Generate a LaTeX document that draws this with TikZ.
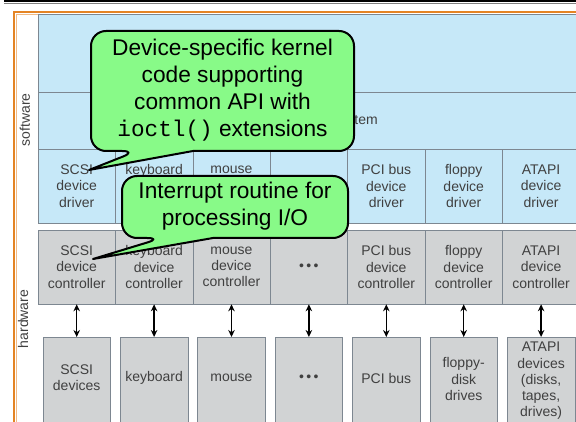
\documentclass[tikz,border=0pt]{standalone}
\usepackage{fontspec}
\setmainfont{Liberation Sans}
\setmonofont{Liberation Mono}
\usetikzlibrary{arrows.meta}

\definecolor{swblue}{RGB}{198,232,248}
\definecolor{hwgray}{RGB}{209,211,212}
\definecolor{gridc}{RGB}{125,135,145}
\definecolor{cellt}{RGB}{64,64,64}
\definecolor{callg}{RGB}{136,250,136}
\definecolor{frameo}{RGB}{228,132,36}

\begin{document}
\begin{tikzpicture}[x=1pt,y=-1pt,
  cell/.style={draw=gridc, line width=0.6pt, minimum width=77.4pt, minimum height=74pt, inner sep=0pt, align=center, text=cellt, font=\fontsize{14}{16.3}\selectfont},
  drv/.style={cell, fill=swblue},
  ctl/.style={cell, fill=hwgray},
  devbox/.style={draw=gridc, line width=0.6pt, fill=hwgray, minimum width=67.5pt, minimum height=100pt, anchor=north, inner sep=0pt},
  devtxt/.style={align=center, text=cellt, font=\fontsize{14}{16.3}\selectfont, inner sep=0pt},
  link/.style={{Stealth[length=7pt,width=6.5pt]}-{Stealth[length=7pt,width=6.5pt]}, line width=1.3pt},
  callout/.style={fill=callg, draw=black, line width=2pt, line join=round},
  calltxt/.style={align=center, font=\fontsize{22.7}{27}\selectfont, inner sep=0pt},
  side/.style={rotate=90, text=cellt, font=\fontsize{14}{16}\selectfont, inner sep=0pt},
  plain/.style={text=cellt, font=\fontsize{14}{16.3}\selectfont, inner sep=0pt}
]
\useasboundingbox (0,0) rectangle (576,422);
\clip (0,0) rectangle (576,422);

% top rule
\draw[line width=1.6pt] (4,0.8) -- (580,0.8);
\draw[line width=0.5pt, gray] (4,2.8) -- (580,2.8);

% orange frame
\draw[frameo, line width=1.3pt] (14,440) -- (14,12) -- (590,12);
\draw[frameo!55, line width=0.6pt] (16.5,440) -- (16.5,14.5) -- (590,14.5);

% software region
\filldraw[fill=swblue, draw=gridc, line width=0.6pt] (38,14.5) rectangle (590,223);
\draw[gridc, line width=0.6pt] (38,92) -- (590,92);
\draw[gridc, line width=0.6pt] (38,149) -- (590,149);
\node[plain] (kio) at (312,120.5) {kernel I/O subsystem};

% side labels
\node[side] (sw) at (25,120) {software};
\node[side] (hw) at (23,319) {hardware};

% drivers
\node[drv] (drv1) at (76.7,186) {SCSI\\device\\driver};
\node[drv] (drv2) at (154.1,186) {keyboard\\device\\driver};
\node[drv] (drv3) at (231.5,186) {mouse\\device\\driver};
\node[drv] (drv4) at (308.9,186) {};
\node[drv] (drv5) at (386.3,186) {PCI bus\\device\\driver};
\node[drv] (drv6) at (463.7,186) {floppy\\device\\driver};
\node[drv] (drv7) at (541.1,186) {ATAPI\\device\\driver};

% controllers
\node[ctl] (ctl1) at (76.7,267) {SCSI\\device\\controller};
\node[ctl] (ctl2) at (154.1,267) {keyboard\\device\\controller};
\node[ctl] (ctl3) at (231.5,267) {mouse\\device\\controller};
\node[ctl] (ctl4) at (308.9,267) {•\,•\,•};
\node[ctl] (ctl5) at (386.3,267) {PCI bus\\device\\controller};
\node[ctl] (ctl6) at (463.7,267) {floppy\\device\\controller};
\node[ctl] (ctl7) at (541.1,267) {ATAPI\\device\\controller};

% devices
\foreach \i/\x in {1/76.7,2/154.1,3/231.5,4/308.9,5/386.3,6/463.7,7/541.1}{
  \node[devbox] (dev\i) at (\x,337) {};
}
\node[devtxt] (dt1) at (76.7,378) {SCSI\\devices};
\node[devtxt] (dt2) at (154.1,378) {keyboard};
\node[devtxt] (dt3) at (231.5,378) {mouse};
\node[devtxt] (dt4) at (308.9,378) {•\,•\,•};
\node[devtxt] (dt5) at (386.3,378) {PCI bus};
\node[devtxt] (dt6) at (463.7,379) {floppy-\\disk\\drives};
\node[devtxt] (dt7) at (541.1,381) {ATAPI\\devices\\(disks,\\tapes,\\drives)};

\foreach \i in {1,...,7}{
  \draw[link] (ctl\i) -- (dev\i);
}

% callout 1
\coordinate (t1) at (89,170);
\draw[callout] (193,151) [rounded corners=15pt] -- (354,151) -- (354,31) -- (91,31) -- (91,151) -- (137,151) [sharp corners] -- (t1) -- cycle;
\node[calltxt] (c1) at (222.5,90.5) {Device-specific kernel\\code supporting\\common API with\\\texttt{ioctl()} extensions};

% callout 2
\coordinate (t2) at (93,259);
\draw[callout] (213,238) [rounded corners=15pt] -- (348,238) -- (348,176) -- (122,176) -- (122,238) -- (162,238) [sharp corners] -- (t2) -- cycle;
\node[calltxt] (c2) at (235,206.5) {Interrupt routine for\\processing I/O};
\end{tikzpicture}
\end{document}
